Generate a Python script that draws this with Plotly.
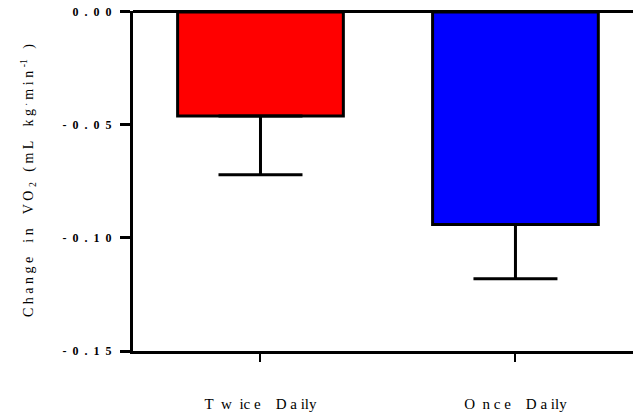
import plotly.graph_objects as go

NB = "\u00a0"

def spaced(text, gap=1, word_gap=3):
    words = text.split(" ")
    return (NB * word_gap).join((NB * gap).join(list(w)) for w in words)

categories = ["Twice Daily", "Once Daily"]
category_ticktext = [
    "T" + NB * 2 + "w" + NB * 2 + "ic" + NB + "e" + NB * 4 + "D" + NB + "a" + NB + "ily",
    "O" + NB * 2 + "n" + NB + "c" + NB + "e" + NB * 4 + "D" + NB + "a" + NB + "ily",
]
means = [-0.046, -0.094]
sem = [0.026, 0.024]
colors = ["#ff0000", "#0000ff"]
y_ticks = [0.0, -0.05, -0.10, -0.15]
y_ticklabels = ["0.00", "-0.05", "-0.10", "-0.15"]

fig = go.Figure()
fig.add_trace(go.Bar(
    x=[0, 1], y=means, width=0.65,
    marker=dict(color=colors, line=dict(color="black", width=3)),
    error_y=dict(type="data", symmetric=False, array=[0, 0], arrayminus=sem,
                 color="black", thickness=3, width=42),
))

title_text = (spaced("Change in VO", 1, 4) + NB + "<sub>2</sub>" + NB * 3 + spaced("(mL kg", 1, 4)
              + NB + "<sup>.</sup>" + NB + spaced("min") + NB + "<sup>-1</sup>" + NB * 3 + ")")

fig.update_layout(
    width=633, height=414,
    margin=dict(l=133, r=0, t=11, b=63),
    paper_bgcolor="white", plot_bgcolor="white",
    showlegend=False,
    font=dict(family="Liberation Serif, Times New Roman, serif", color="black", size=12),
    xaxis=dict(range=[-0.5, 1.461], tickmode="array", tickvals=[0, 1],
               ticktext=category_ticktext, automargin=False,
               showgrid=False, zeroline=False, showline=True, linecolor="black", linewidth=3,
               ticks="outside", ticklen=8, tickwidth=2, tickcolor="black",
               ticklabelstandoff=29, tickfont=dict(size=15)),
    yaxis=dict(range=[-0.15, 0.0004], tickmode="array", tickvals=y_ticks,
               ticktext=[spaced(t, 2) for t in y_ticklabels], automargin=False,
               showgrid=False, zeroline=True, zerolinecolor="black", zerolinewidth=3,
               showline=True, linecolor="black", linewidth=3,
               ticks="outside", ticklen=10, tickwidth=3, tickcolor="black",
               ticklabelstandoff=6,
               tickfont=dict(size=12, family="Liberation Serif", weight="bold")),
    annotations=[dict(
        text=title_text,
        xref="paper", yref="paper", x=-0.21, y=0.5, textangle=-90,
        showarrow=False, xanchor="center", yanchor="middle",
        font=dict(size=14))],
)

fig.write_html("out.html", config={"displayModeBar": False},
               post_script="document.body.style.margin='0';")
